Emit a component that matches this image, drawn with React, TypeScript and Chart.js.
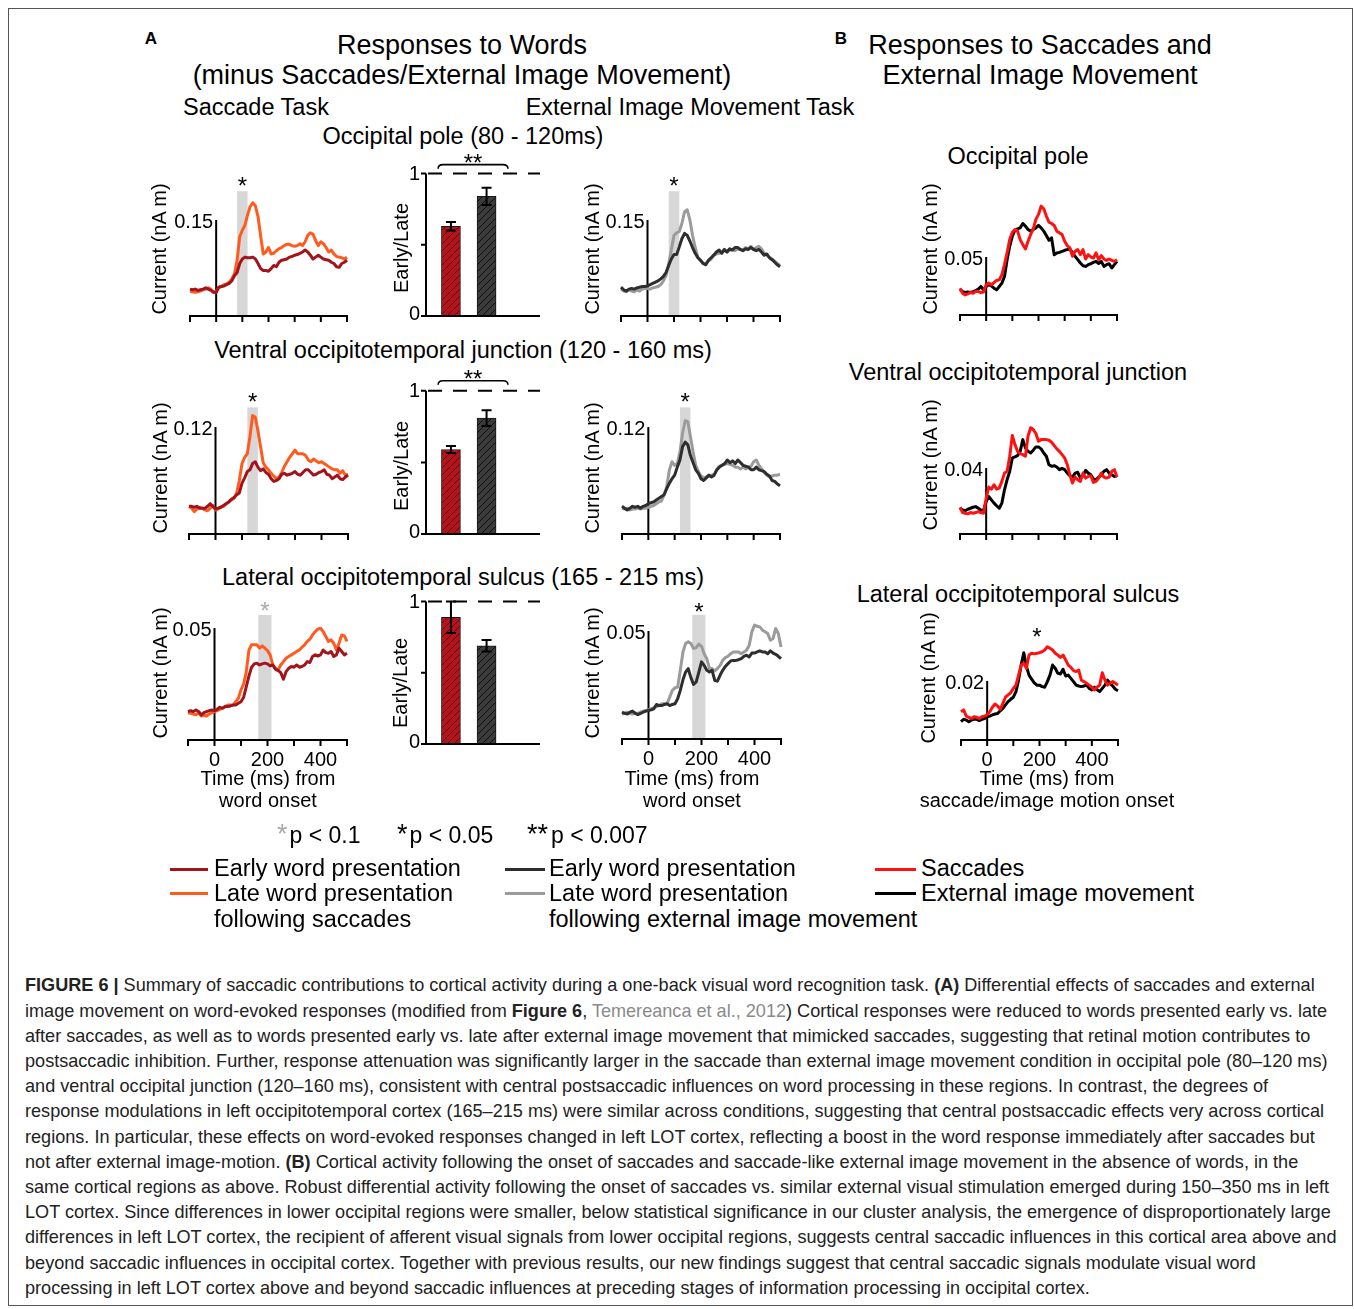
import React, { useEffect, useRef } from "react";
import { Chart, registerables } from "chart.js";

Chart.register(...registerables);

const FONT = '"Liberation Sans", Arial, Helvetica, sans-serif';

// ---------------- DATA ----------------
const TIMES = [-100, -90, -80, -70, -60, -50, -40, -30, -20, -10, 0, 10, 20, 30, 40, 50, 60, 70, 80, 90, 100, 110, 120, 130, 140, 150, 160, 170, 180, 190, 200, 210, 220, 230, 240, 250, 260, 270, 280, 290, 300, 310, 320, 330, 340, 350, 360, 370, 380, 390, 400, 410, 420, 430, 440, 450, 460, 470, 480, 490, 500];
const X_TICKS = [-100, 0, 100, 200, 300, 400, 500];
const X_TICK_LABELS = ["", "0", "", "200", "", "400", ""];

// Occipital pole — saccade task (early / late word presentation)
const S1_EARLY = [
  0.042, 0.041, 0.042, 0.040, 0.041, 0.042, 0.044, 0.042, 0.040, 0.037,
  0.037, 0.045, 0.046, 0.047, 0.049, 0.051, 0.055, 0.063, 0.068, 0.082,
  0.089, 0.092, 0.091, 0.091, 0.092, 0.089, 0.082, 0.074, 0.071, 0.071,
  0.070, 0.074, 0.079, 0.077, 0.084, 0.087, 0.088, 0.089, 0.092, 0.093,
  0.095, 0.096, 0.098, 0.100, 0.103, 0.100, 0.095, 0.089, 0.092, 0.095,
  0.092, 0.089, 0.088, 0.087, 0.084, 0.082, 0.077, 0.076, 0.082, 0.084,
  0.087];
const S1_LATE = [
  0.039, 0.038, 0.037, 0.038, 0.039, 0.041, 0.042, 0.044, 0.042, 0.037,
  0.038, 0.045, 0.046, 0.049, 0.050, 0.053, 0.058, 0.066, 0.087, 0.124,
  0.134, 0.142, 0.158, 0.171, 0.177, 0.172, 0.155, 0.125, 0.097, 0.100,
  0.107, 0.097, 0.098, 0.102, 0.105, 0.107, 0.110, 0.112, 0.112, 0.110,
  0.109, 0.110, 0.113, 0.110, 0.116, 0.126, 0.130, 0.128, 0.118, 0.110,
  0.116, 0.113, 0.107, 0.100, 0.103, 0.097, 0.093, 0.092, 0.091, 0.089,
  0.092];
// Occipital pole — external image movement task
const E1_EARLY = [
  0.045, 0.041, 0.039, 0.042, 0.043, 0.042, 0.044, 0.045, 0.046, 0.046,
  0.047, 0.049, 0.051, 0.053, 0.055, 0.058, 0.062, 0.068, 0.079, 0.089,
  0.096, 0.096, 0.108, 0.121, 0.129, 0.126, 0.117, 0.107, 0.098, 0.091,
  0.087, 0.082, 0.080, 0.087, 0.091, 0.095, 0.100, 0.103, 0.098, 0.104,
  0.100, 0.105, 0.103, 0.107, 0.107, 0.104, 0.102, 0.105, 0.104, 0.107,
  0.104, 0.102, 0.104, 0.100, 0.095, 0.097, 0.091, 0.088, 0.084, 0.080,
  0.077];
const E1_LATE = [
  0.042, 0.039, 0.038, 0.041, 0.039, 0.038, 0.041, 0.039, 0.042, 0.043,
  0.043, 0.042, 0.044, 0.045, 0.046, 0.049, 0.055, 0.063, 0.082, 0.103,
  0.126, 0.130, 0.132, 0.145, 0.163, 0.166, 0.150, 0.126, 0.107, 0.092,
  0.087, 0.082, 0.082, 0.086, 0.089, 0.095, 0.097, 0.098, 0.100, 0.102,
  0.100, 0.103, 0.104, 0.102, 0.105, 0.104, 0.103, 0.107, 0.105, 0.109,
  0.104, 0.107, 0.109, 0.105, 0.098, 0.095, 0.092, 0.089, 0.086, 0.082,
  0.079];
// Occipital pole — responses to saccades / external image movement
const B1_SACC = [
  0.0231, 0.0188, 0.0173, 0.0182, 0.0194, 0.0188, 0.0202, 0.0202, 0.0194, 0.0199,
  0.0260, 0.0275, 0.0260, 0.0280, 0.0298, 0.0303, 0.0347, 0.0434, 0.0535, 0.0650,
  0.0714, 0.0737, 0.0723, 0.0650, 0.0607, 0.0569, 0.0636, 0.0694, 0.0743, 0.0824,
  0.0867, 0.0939, 0.0916, 0.0853, 0.0801, 0.0789, 0.0772, 0.0723, 0.0708, 0.0694,
  0.0636, 0.0598, 0.0578, 0.0506, 0.0549, 0.0564, 0.0520, 0.0564, 0.0483, 0.0520,
  0.0500, 0.0491, 0.0535, 0.0477, 0.0512, 0.0483, 0.0471, 0.0483, 0.0471, 0.0462,
  0.0477];
const B1_EXT = [
  0.0217, 0.0202, 0.0194, 0.0199, 0.0194, 0.0202, 0.0211, 0.0223, 0.0246, 0.0217,
  0.0246, 0.0260, 0.0251, 0.0231, 0.0217, 0.0246, 0.0275, 0.0332, 0.0477, 0.0592,
  0.0679, 0.0731, 0.0743, 0.0751, 0.0789, 0.0766, 0.0737, 0.0723, 0.0737, 0.0751,
  0.0772, 0.0751, 0.0723, 0.0685, 0.0644, 0.0665, 0.0520, 0.0535, 0.0540, 0.0549,
  0.0558, 0.0564, 0.0569, 0.0535, 0.0506, 0.0477, 0.0448, 0.0425, 0.0419, 0.0434,
  0.0442, 0.0454, 0.0462, 0.0442, 0.0462, 0.0419, 0.0434, 0.0442, 0.0405, 0.0434,
  0.0462];

// Ventral occipitotemporal junction
const S2_EARLY = [
  0.031, 0.031, 0.030, 0.031, 0.029, 0.029, 0.029, 0.031, 0.034, 0.031,
  0.028, 0.029, 0.030, 0.032, 0.034, 0.036, 0.039, 0.041, 0.044, 0.046,
  0.057, 0.063, 0.070, 0.072, 0.079, 0.081, 0.075, 0.071, 0.073, 0.069,
  0.067, 0.062, 0.059, 0.060, 0.062, 0.067, 0.068, 0.066, 0.067, 0.068,
  0.070, 0.067, 0.066, 0.069, 0.072, 0.072, 0.069, 0.066, 0.067, 0.069,
  0.070, 0.072, 0.067, 0.066, 0.062, 0.064, 0.066, 0.062, 0.061, 0.064,
  0.066];
const S2_LATE = [
  0.031, 0.029, 0.025, 0.028, 0.030, 0.029, 0.027, 0.026, 0.029, 0.032,
  0.027, 0.028, 0.030, 0.031, 0.034, 0.036, 0.038, 0.040, 0.046, 0.060,
  0.079, 0.086, 0.090, 0.109, 0.133, 0.131, 0.116, 0.098, 0.080, 0.075,
  0.072, 0.068, 0.065, 0.062, 0.064, 0.069, 0.076, 0.081, 0.086, 0.090,
  0.094, 0.090, 0.090, 0.090, 0.088, 0.083, 0.081, 0.084, 0.082, 0.080,
  0.081, 0.079, 0.077, 0.075, 0.073, 0.072, 0.072, 0.068, 0.071, 0.066,
  0.067];
const E2_EARLY = [
  0.031, 0.029, 0.027, 0.029, 0.031, 0.030, 0.031, 0.029, 0.031, 0.032,
  0.034, 0.035, 0.036, 0.038, 0.040, 0.042, 0.044, 0.051, 0.057, 0.062,
  0.066, 0.075, 0.083, 0.098, 0.103, 0.100, 0.088, 0.080, 0.072, 0.068,
  0.062, 0.060, 0.063, 0.066, 0.064, 0.066, 0.072, 0.075, 0.077, 0.079,
  0.083, 0.080, 0.082, 0.079, 0.083, 0.080, 0.077, 0.076, 0.075, 0.072,
  0.072, 0.075, 0.072, 0.071, 0.070, 0.067, 0.065, 0.060, 0.059, 0.056,
  0.054];
const E2_LATE = [
  0.029, 0.028, 0.029, 0.027, 0.028, 0.028, 0.029, 0.028, 0.029, 0.029,
  0.030, 0.031, 0.032, 0.034, 0.036, 0.037, 0.044, 0.053, 0.072, 0.081,
  0.077, 0.079, 0.092, 0.113, 0.127, 0.126, 0.109, 0.092, 0.077, 0.070,
  0.065, 0.063, 0.064, 0.065, 0.066, 0.067, 0.072, 0.076, 0.077, 0.078,
  0.079, 0.078, 0.077, 0.075, 0.075, 0.073, 0.075, 0.073, 0.075, 0.076,
  0.081, 0.083, 0.077, 0.073, 0.069, 0.066, 0.064, 0.065, 0.066, 0.066,
  0.067];
const B2_SACC = [
  0.0162, 0.0130, 0.0126, 0.0122, 0.0130, 0.0126, 0.0130, 0.0136, 0.0130, 0.0126,
  0.0217, 0.0284, 0.0272, 0.0298, 0.0272, 0.0278, 0.0319, 0.0369, 0.0380, 0.0471,
  0.0597, 0.0542, 0.0501, 0.0487, 0.0481, 0.0471, 0.0593, 0.0644, 0.0633, 0.0609,
  0.0562, 0.0572, 0.0572, 0.0572, 0.0568, 0.0556, 0.0536, 0.0516, 0.0501, 0.0481,
  0.0461, 0.0420, 0.0359, 0.0309, 0.0345, 0.0329, 0.0319, 0.0369, 0.0339, 0.0349,
  0.0353, 0.0313, 0.0319, 0.0339, 0.0369, 0.0345, 0.0339, 0.0345, 0.0380, 0.0390,
  0.0345];
const B2_EXT = [
  0.0156, 0.0146, 0.0142, 0.0150, 0.0156, 0.0162, 0.0166, 0.0156, 0.0146, 0.0142,
  0.0197, 0.0227, 0.0207, 0.0187, 0.0171, 0.0156, 0.0187, 0.0268, 0.0329, 0.0380,
  0.0461, 0.0467, 0.0475, 0.0501, 0.0572, 0.0522, 0.0501, 0.0491, 0.0508, 0.0528,
  0.0528, 0.0516, 0.0491, 0.0471, 0.0420, 0.0410, 0.0414, 0.0406, 0.0390, 0.0398,
  0.0390, 0.0369, 0.0353, 0.0345, 0.0369, 0.0374, 0.0339, 0.0353, 0.0386, 0.0369,
  0.0359, 0.0333, 0.0329, 0.0345, 0.0359, 0.0380, 0.0390, 0.0369, 0.0359, 0.0349,
  0.0353];

// Lateral occipitotemporal sulcus
const S3_EARLY = [
  0.0127, 0.0131, 0.0127, 0.0134, 0.0127, 0.0112, 0.0122, 0.0127, 0.0131, 0.0134,
  0.0131, 0.0137, 0.0146, 0.0142, 0.0149, 0.0149, 0.0152, 0.0156, 0.0156, 0.0164,
  0.0171, 0.0191, 0.0238, 0.0286, 0.0325, 0.0340, 0.0343, 0.0335, 0.0340, 0.0343,
  0.0340, 0.0331, 0.0335, 0.0316, 0.0310, 0.0301, 0.0271, 0.0305, 0.0320, 0.0328,
  0.0325, 0.0335, 0.0325, 0.0328, 0.0335, 0.0350, 0.0346, 0.0373, 0.0380, 0.0375,
  0.0380, 0.0402, 0.0390, 0.0387, 0.0395, 0.0373, 0.0380, 0.0410, 0.0395, 0.0380,
  0.0387];
const S3_LATE = [
  0.0122, 0.0119, 0.0116, 0.0112, 0.0122, 0.0107, 0.0112, 0.0107, 0.0116, 0.0122,
  0.0127, 0.0131, 0.0137, 0.0142, 0.0149, 0.0156, 0.0156, 0.0156, 0.0171, 0.0186,
  0.0224, 0.0250, 0.0305, 0.0402, 0.0425, 0.0425, 0.0425, 0.0410, 0.0420, 0.0410,
  0.0399, 0.0380, 0.0335, 0.0320, 0.0313, 0.0335, 0.0350, 0.0365, 0.0373, 0.0380,
  0.0387, 0.0395, 0.0402, 0.0414, 0.0425, 0.0440, 0.0450, 0.0469, 0.0484, 0.0495,
  0.0499, 0.0484, 0.0462, 0.0440, 0.0447, 0.0432, 0.0402, 0.0432, 0.0469, 0.0465,
  0.0440];
const E3_EARLY = [
  0.0124, 0.0119, 0.0116, 0.0124, 0.0129, 0.0119, 0.0113, 0.0119, 0.0124, 0.0129,
  0.0132, 0.0135, 0.0140, 0.0160, 0.0155, 0.0155, 0.0160, 0.0163, 0.0155, 0.0160,
  0.0163, 0.0186, 0.0225, 0.0274, 0.0310, 0.0326, 0.0284, 0.0253, 0.0264, 0.0310,
  0.0357, 0.0341, 0.0318, 0.0310, 0.0318, 0.0271, 0.0268, 0.0295, 0.0318, 0.0336,
  0.0349, 0.0361, 0.0364, 0.0364, 0.0367, 0.0372, 0.0383, 0.0388, 0.0380, 0.0398,
  0.0398, 0.0403, 0.0408, 0.0403, 0.0403, 0.0395, 0.0408, 0.0398, 0.0392, 0.0383,
  0.0372];
const E3_LATE = [
  0.0116, 0.0119, 0.0124, 0.0119, 0.0116, 0.0119, 0.0119, 0.0124, 0.0129, 0.0132,
  0.0135, 0.0140, 0.0144, 0.0150, 0.0155, 0.0163, 0.0163, 0.0163, 0.0194, 0.0225,
  0.0237, 0.0240, 0.0318, 0.0403, 0.0442, 0.0450, 0.0442, 0.0419, 0.0423, 0.0439,
  0.0429, 0.0395, 0.0372, 0.0326, 0.0326, 0.0315, 0.0326, 0.0341, 0.0364, 0.0377,
  0.0383, 0.0395, 0.0403, 0.0403, 0.0403, 0.0395, 0.0403, 0.0411, 0.0434, 0.0496,
  0.0527, 0.0522, 0.0519, 0.0504, 0.0496, 0.0488, 0.0457, 0.0465, 0.0512, 0.0488,
  0.0426];
const B3_SACC = [
  0.0096, 0.0102, 0.0081, 0.0077, 0.0073, 0.0079, 0.0077, 0.0073, 0.0079, 0.0081,
  0.0085, 0.0096, 0.0111, 0.0122, 0.0115, 0.0104, 0.0124, 0.0145, 0.0153, 0.0160,
  0.0175, 0.0186, 0.0220, 0.0254, 0.0260, 0.0243, 0.0288, 0.0294, 0.0292, 0.0294,
  0.0296, 0.0299, 0.0305, 0.0316, 0.0311, 0.0305, 0.0294, 0.0288, 0.0280, 0.0288,
  0.0271, 0.0254, 0.0246, 0.0235, 0.0232, 0.0237, 0.0203, 0.0198, 0.0192, 0.0186,
  0.0179, 0.0170, 0.0179, 0.0186, 0.0228, 0.0203, 0.0186, 0.0192, 0.0198, 0.0192,
  0.0186];
const B3_EXT = [
  0.0062, 0.0070, 0.0068, 0.0062, 0.0068, 0.0070, 0.0070, 0.0066, 0.0070, 0.0073,
  0.0079, 0.0081, 0.0085, 0.0088, 0.0090, 0.0099, 0.0107, 0.0119, 0.0130, 0.0138,
  0.0145, 0.0164, 0.0203, 0.0254, 0.0296, 0.0249, 0.0220, 0.0206, 0.0194, 0.0186,
  0.0186, 0.0181, 0.0179, 0.0198, 0.0220, 0.0254, 0.0243, 0.0226, 0.0224, 0.0240,
  0.0217, 0.0220, 0.0209, 0.0198, 0.0186, 0.0183, 0.0181, 0.0183, 0.0186, 0.0175,
  0.0170, 0.0179, 0.0170, 0.0164, 0.0175, 0.0186, 0.0203, 0.0192, 0.0183, 0.0172,
  0.0167];

// Early/Late ratio bars: [saccade task, external image movement task]
const BAR_POS = [1, 2];
const OP_RATIO = [0.63, 0.84];
const OP_ERR = [0.03, 0.06];
const VOJ_RATIO = [0.59, 0.81];
const VOJ_ERR = [0.025, 0.055];
const LOT_RATIO = [0.89, 0.69];
const LOT_ERR = [0.11, 0.04];
const BAR_Y_TICKS = [0, 0.5, 1];
const BAR_Y_LABELS = ["0", "", "1"];

// ---------------- STYLE ----------------
const DARK_RED = "#a3131c";
const ORANGE = "#ff5b1f";
const DARK = "#2e2e2e";
const GRAY = "#9b9b9b";
const RED = "#ff1111";
const BLACK = "#000000";

type Series = { data: number[]; color: string };
type LineSpec = {
  key: string; xL: number; xR: number; yB: number; yT: number; tick: number;
  series: Series[]; band?: [number, number]; bandTop?: number;
  star?: { t: number; v: number; color: string }; xLabels: boolean;
};

const LINE_SPECS: LineSpec[] = [
  { key: "s1", xL: 190, xR: 347, yB: 316, yT: 220, tick: 0.15, series: [{ data: S1_EARLY, color: DARK_RED }, { data: S1_LATE, color: ORANGE }], band: [80, 120], bandTop: 0.195, star: { t: 100, v: 0.211, color: "#000" }, xLabels: false },
  { key: "e1", xL: 621, xR: 780, yB: 316, yT: 220, tick: 0.15, series: [{ data: E1_EARLY, color: DARK }, { data: E1_LATE, color: GRAY }], band: [80, 120], bandTop: 0.195, star: { t: 100, v: 0.211, color: "#000" }, xLabels: false },
  { key: "b1", xL: 960, xR: 1117, yB: 315, yT: 257, tick: 0.05, series: [{ data: B1_SACC, color: RED }, { data: B1_EXT, color: BLACK }], xLabels: false },
  { key: "s2", xL: 189, xR: 348, yB: 534, yT: 427, tick: 0.12, series: [{ data: S2_EARLY, color: DARK_RED }, { data: S2_LATE, color: ORANGE }], band: [120, 160], bandTop: 0.142, star: { t: 140, v: 0.154, color: "#000" }, xLabels: false },
  { key: "e2", xL: 622, xR: 780, yB: 534, yT: 427, tick: 0.12, series: [{ data: E2_EARLY, color: DARK }, { data: E2_LATE, color: GRAY }], band: [120, 160], bandTop: 0.142, star: { t: 140, v: 0.154, color: "#000" }, xLabels: false },
  { key: "b2", xL: 960, xR: 1117, yB: 534, yT: 468, tick: 0.04, series: [{ data: B2_SACC, color: RED }, { data: B2_EXT, color: BLACK }], xLabels: false },
  { key: "s3", xL: 188, xR: 347, yB: 740, yT: 628, tick: 0.05, series: [{ data: S3_EARLY, color: DARK_RED }, { data: S3_LATE, color: ORANGE }], band: [165, 215], bandTop: 0.0558, star: { t: 190, v: 0.0598, color: "#aaaaaa" }, xLabels: true },
  { key: "e3", xL: 622, xR: 781, yB: 739, yT: 631, tick: 0.05, series: [{ data: E3_EARLY, color: DARK }, { data: E3_LATE, color: GRAY }], band: [165, 215], bandTop: 0.0575, star: { t: 190, v: 0.0612, color: "#000" }, xLabels: true },
  { key: "b3", xL: 961, xR: 1118, yB: 740, yT: 681, tick: 0.02, series: [{ data: B3_SACC, color: RED }, { data: B3_EXT, color: BLACK }], star: { t: 190, v: 0.0366, color: "#000" }, xLabels: true },
];

type BarSpec = {
  key: string; axisX: number; xR: number; yB: number; yT: number;
  values: number[]; errs: number[]; bracket?: { from: number; to: number; v: number; sv: number };
};
const BAR_X_MIN = 0.3;
const BAR_X_MAX = 3.5;
const BAR_SPECS: BarSpec[] = [
  { key: "r1", axisX: 426, xR: 540, yB: 316, yT: 174, values: OP_RATIO, errs: OP_ERR, bracket: { from: 0.64, to: 2.6, v: 1.063, sv: 1.113 } },
  { key: "r2", axisX: 426, xR: 540, yB: 534, yT: 391, values: VOJ_RATIO, errs: VOJ_ERR, bracket: { from: 0.64, to: 2.6, v: 1.07, sv: 1.12 } },
  { key: "r3", axisX: 426, xR: 540, yB: 744, yT: 602, values: LOT_RATIO, errs: LOT_ERR },
];

// ---------------- CHARTS ----------------
function LineChart({ spec }: { spec: LineSpec }) {
  const ref = useRef<HTMLCanvasElement>(null);
  const PL = 40, PR = 15, PT = 40, PB = 40;
  const yMax = spec.tick * 2;
  const plotW = Math.round(spec.xR - spec.xL);
  const plotH = Math.round((spec.yB - spec.yT) * 2);
  const W = plotW + PL + PR;
  const H = plotH + PT + PB;
  const left = Math.round(spec.xL) - PL;
  const top = Math.round(spec.yB) - plotH - PT;

  useEffect(() => {
    const canvas = ref.current!;
    const plugin = {
      id: "figAxes" + spec.key,
      beforeDatasetsDraw(chart: any) {
        const { ctx, scales } = chart;
        const x = scales.x, y = scales.y;
        const yb = y.getPixelForValue(0);
        ctx.save();
        if (spec.band && spec.bandTop !== undefined) {
          const bx0 = x.getPixelForValue(spec.band[0]);
          const bx1 = x.getPixelForValue(spec.band[1]);
          const by = y.getPixelForValue(spec.bandTop);
          ctx.fillStyle = "#d7d7d7";
          ctx.fillRect(bx0, by, bx1 - bx0, yb - by);
        }
        ctx.strokeStyle = "#000";
        ctx.lineWidth = 2;
        ctx.beginPath();
        ctx.moveTo(x.getPixelForValue(-100) - 1, yb);
        ctx.lineTo(x.getPixelForValue(500) + 1, yb);
        X_TICKS.forEach((t) => {
          const px = x.getPixelForValue(t);
          ctx.moveTo(px, yb);
          ctx.lineTo(px, yb + 6);
        });
        const px0 = x.getPixelForValue(0);
        const yt = y.getPixelForValue(spec.tick);
        ctx.moveTo(px0, yb);
        ctx.lineTo(px0, yt);
        ctx.stroke();
        ctx.fillStyle = "#000";
        ctx.font = `20px ${FONT}`;
        ctx.textAlign = "right";
        ctx.textBaseline = "middle";
        ctx.fillText(spec.tick.toFixed(2), px0 - 3, yt + 2);
        if (spec.xLabels) {
          ctx.textAlign = "center";
          X_TICKS.forEach((t, i) => {
            if (X_TICK_LABELS[i]) ctx.fillText(X_TICK_LABELS[i], x.getPixelForValue(t), yb + 20);
          });
        }
        ctx.restore();
      },
      afterDatasetsDraw(chart: any) {
        if (!spec.star) return;
        const { ctx, scales } = chart;
        ctx.save();
        ctx.fillStyle = spec.star.color;
        ctx.font = `24px ${FONT}`;
        ctx.textAlign = "center";
        ctx.textBaseline = "alphabetic";
        ctx.fillText("*", scales.x.getPixelForValue(spec.star.t), scales.y.getPixelForValue(spec.star.v) + 13);
        ctx.restore();
      },
    };
    const chart = new Chart(canvas, {
      type: "line",
      data: {
        datasets: spec.series.map((s) => ({
          data: TIMES.map((t, i) => ({ x: t, y: s.data[i] })),
          borderColor: s.color,
          backgroundColor: s.color,
          borderWidth: 3,
          pointRadius: 0,
          tension: 0,
          fill: false,
          clip: false as any,
          borderJoinStyle: "round" as const,
        })),
      },
      options: {
        responsive: false,
        animation: false,
        devicePixelRatio: 1,
        events: [],
        layout: { padding: { left: PL, right: PR, top: PT, bottom: PB } },
        plugins: { legend: { display: false }, tooltip: { enabled: false }, title: { display: false } },
        scales: {
          x: { type: "linear", min: -100, max: 500, display: false },
          y: { type: "linear", min: 0, max: yMax, display: false },
        },
      },
      plugins: [plugin],
    });
    return () => chart.destroy();
  }, []);

  return <canvas ref={ref} width={W} height={H} style={{ position: "absolute", left, top, width: W, height: H }} />;
}

function makeHatch(ctx: CanvasRenderingContext2D, bg: string, line: string) {
  const c = document.createElement("canvas");
  c.width = 7;
  c.height = 7;
  const g = c.getContext("2d")!;
  g.fillStyle = bg;
  g.fillRect(0, 0, 7, 7);
  g.strokeStyle = line;
  g.lineWidth = 1;
  g.beginPath();
  g.moveTo(0, 7);
  g.lineTo(7, 0);
  g.moveTo(-1, 1);
  g.lineTo(1, -1);
  g.moveTo(6, 8);
  g.lineTo(8, 6);
  g.stroke();
  return ctx.createPattern(c, "repeat")!;
}

function BarChart({ spec }: { spec: BarSpec }) {
  const ref = useRef<HTMLCanvasElement>(null);
  const PL = 40, PR = 10, PT = 20, PB = 12;
  const yMax = 1.25;
  const plotW = Math.round(spec.xR - spec.axisX);
  const plotH = Math.round((spec.yB - spec.yT) * yMax);
  const W = plotW + PL + PR;
  const H = plotH + PT + PB;
  const left = Math.round(spec.axisX) - PL;
  const top = Math.round(spec.yB) - plotH - PT;

  useEffect(() => {
    const canvas = ref.current!;
    const ctx0 = canvas.getContext("2d")!;
    const redHatch = makeHatch(ctx0, "#b3141c", "#5e090e");
    const darkHatch = makeHatch(ctx0, "#3b3b3b", "#0e0e0e");
    const plugin = {
      id: "barAxes" + spec.key,
      afterDatasetsDraw(chart: any) {
        const { ctx, scales } = chart;
        const x = scales.x, y = scales.y;
        const ax = x.getPixelForValue(BAR_X_MIN);
        const xr = x.getPixelForValue(BAR_X_MAX);
        const y0 = y.getPixelForValue(0);
        const y1 = y.getPixelForValue(1);
        ctx.save();
        ctx.strokeStyle = "#000";
        ctx.lineWidth = 2;
        ctx.setLineDash([14, 11]);
        ctx.beginPath();
        ctx.moveTo(ax + 2, y1);
        ctx.lineTo(xr, y1);
        ctx.stroke();
        ctx.setLineDash([]);
        ctx.beginPath();
        ctx.moveTo(ax, y0);
        ctx.lineTo(ax, y1);
        ctx.moveTo(ax - 1, y0);
        ctx.lineTo(xr, y0);
        BAR_Y_TICKS.forEach((v) => {
          const py = y.getPixelForValue(v);
          ctx.moveTo(ax - 5, py);
          ctx.lineTo(ax, py);
        });
        ctx.stroke();
        ctx.fillStyle = "#000";
        ctx.font = `20px ${FONT}`;
        ctx.textAlign = "right";
        ctx.textBaseline = "middle";
        BAR_Y_TICKS.forEach((v, i) => {
          if (!BAR_Y_LABELS[i]) return;
          const py = y.getPixelForValue(v);
          ctx.fillText(BAR_Y_LABELS[i], ax - 6, v === 0 ? py - 2 : py + 1);
        });
        // error bars
        ctx.lineWidth = 2;
        spec.values.forEach((v, i) => {
          const px = x.getPixelForValue(BAR_POS[i]);
          const yt = y.getPixelForValue(v + spec.errs[i]);
          const yb = y.getPixelForValue(v - spec.errs[i]);
          ctx.beginPath();
          ctx.moveTo(px, yt);
          ctx.lineTo(px, yb);
          ctx.moveTo(px - 5, yt);
          ctx.lineTo(px + 5, yt);
          ctx.moveTo(px - 5, yb);
          ctx.lineTo(px + 5, yb);
          ctx.stroke();
        });
        if (spec.bracket) {
          const b = spec.bracket;
          const xa = x.getPixelForValue(b.from);
          const xb = x.getPixelForValue(b.to);
          const yl = y.getPixelForValue(b.v);
          ctx.lineWidth = 1.6;
          ctx.beginPath();
          ctx.moveTo(xa, yl + 4);
          ctx.quadraticCurveTo(xa, yl, xa + 5, yl);
          ctx.lineTo(xb - 5, yl);
          ctx.quadraticCurveTo(xb, yl, xb, yl + 4);
          ctx.stroke();
          ctx.font = `24px ${FONT}`;
          ctx.textAlign = "center";
          ctx.textBaseline = "alphabetic";
          ctx.fillText("**", (xa + xb) / 2, y.getPixelForValue(b.sv) + 13);
        }
        ctx.restore();
      },
    };
    const chart = new Chart(canvas, {
      type: "bar",
      data: {
        datasets: [
          {
            data: BAR_POS.map((p, i) => ({ x: p, y: spec.values[i] })),
            backgroundColor: [redHatch, darkHatch],
            borderColor: "#161616",
            borderWidth: 1,
            barThickness: 19,
          } as any,
        ],
      },
      options: {
        responsive: false,
        animation: false,
        devicePixelRatio: 1,
        events: [],
        layout: { padding: { left: PL, right: PR, top: PT, bottom: PB } },
        plugins: { legend: { display: false }, tooltip: { enabled: false } },
        scales: {
          x: { type: "linear", min: BAR_X_MIN, max: BAR_X_MAX, offset: false, display: false },
          y: { type: "linear", min: 0, max: yMax, display: false },
        },
      },
      plugins: [plugin],
    });
    return () => chart.destroy();
  }, []);

  return <canvas ref={ref} width={W} height={H} style={{ position: "absolute", left, top, width: W, height: H }} />;
}

// ---------------- TEXT ----------------
function T({ x, y, size, children, bold, color, rot, align }: any) {
  const tr = align === "left" ? "translate(0,-50%)" : rot ? "translate(-50%,-50%) rotate(-90deg)" : "translate(-50%,-50%)";
  return (
    <div
      style={{
        position: "absolute",
        left: x,
        top: y,
        transform: tr,
        whiteSpace: "nowrap",
        fontSize: size,
        lineHeight: 1,
        fontWeight: bold ? 700 : 400,
        color: color || "#000",
      }}
    >
      {children}
    </div>
  );
}

const CAPTION_LINES: [string, string][][] = [
  [["FIGURE 6 |", "b"], [" Summary of saccadic contributions to cortical activity during a one-back visual word recognition task. ", ""], ["(A)", "b"], [" Differential effects of saccades and external", ""]],
  [["image movement on word-evoked responses (modified from ", ""], ["Figure 6", "b"], [", ", ""], ["Temereanca et al., 2012", "g"], [") Cortical responses were reduced to words presented early vs. late", ""]],
  [["after saccades, as well as to words presented early vs. late after external image movement that mimicked saccades, suggesting that retinal motion contributes to", ""]],
  [["postsaccadic inhibition. Further, response attenuation was significantly larger in the saccade than external image movement condition in occipital pole (80–120 ms)", ""]],
  [["and ventral occipital junction (120–160 ms), consistent with central postsaccadic influences on word processing in these regions. In contrast, the degrees of", ""]],
  [["response modulations in left occipitotemporal cortex (165–215 ms) were similar across conditions, suggesting that central postsaccadic effects very across cortical", ""]],
  [["regions. In particular, these effects on word-evoked responses changed in left LOT cortex, reflecting a boost in the word response immediately after saccades but", ""]],
  [["not after external image-motion. ", ""], ["(B)", "b"], [" Cortical activity following the onset of saccades and saccade-like external image movement in the absence of words, in the", ""]],
  [["same cortical regions as above. Robust differential activity following the onset of saccades vs. similar external visual stimulation emerged during 150–350 ms in left", ""]],
  [["LOT cortex. Since differences in lower occipital regions were smaller, below statistical significance in our cluster analysis, the emergence of disproportionately large", ""]],
  [["differences in left LOT cortex, the recipient of afferent visual signals from lower occipital regions, suggests central saccadic influences in this cortical area above and", ""]],
  [["beyond saccadic influences in occipital cortex. Together with previous results, our new findings suggest that central saccadic signals modulate visual word", ""]],
  [["processing in left LOT cortex above and beyond saccadic influences at preceding stages of information processing in occipital cortex.", ""]],
];
const CAPTION_Y = [985, 1011, 1036, 1061, 1086, 1111, 1137, 1162, 1187, 1212, 1237, 1263, 1288];

function LegendLine({ x1, x2, y, color }: any) {
  return <div style={{ position: "absolute", left: x1, top: y - 1.5, width: x2 - x1, height: 3, background: color }} />;
}

export default function App() {
  const TITLE = 27;
  const SUB = 23.5;
  const AX = 20;
  return (
    <div
      style={{
        position: "absolute",
        left: 0,
        top: 0,
        width: 1354,
        height: 1309,
        overflow: "hidden",
        background: "#fff",
        fontFamily: FONT,
        color: "#000",
      }}
    >
      <div style={{ position: "absolute", left: 8, top: 8, width: 1343, height: 1296, border: "1px solid #555" }} />

      <T x={151} y={38} size={17} bold>A</T>
      <T x={841} y={38} size={17} bold>B</T>
      <T x={462} y={45} size={TITLE}>Responses to Words</T>
      <T x={462} y={75} size={TITLE}>(minus Saccades/External Image Movement)</T>
      <T x={1040} y={45} size={TITLE}>Responses to Saccades and</T>
      <T x={1040} y={75} size={TITLE}>External Image Movement</T>

      <T x={256} y={108} size={SUB}>Saccade Task</T>
      <T x={690} y={108} size={SUB}>External Image Movement Task</T>
      <T x={463} y={137} size={SUB}>Occipital pole (80 - 120ms)</T>
      <T x={463} y={351} size={SUB}>Ventral occipitotemporal junction (120 - 160 ms)</T>
      <T x={463} y={578} size={SUB}>Lateral occipitotemporal sulcus (165 - 215 ms)</T>
      <T x={1018} y={157} size={SUB}>Occipital pole</T>
      <T x={1018} y={373} size={SUB}>Ventral occipitotemporal junction</T>
      <T x={1018} y={595} size={SUB}>Lateral occipitotemporal sulcus</T>

      {LINE_SPECS.map((s) => (
        <LineChart key={s.key} spec={s} />
      ))}
      {BAR_SPECS.map((s) => (
        <BarChart key={s.key} spec={s} />
      ))}

      {[
        [159, 249], [592, 249], [930, 249],
        [160, 468], [592, 468], [930, 465],
        [160, 673], [592, 673], [928, 678],
      ].map(([x, y], i) => (
        <T key={"cy" + i} x={x} y={y} size={AX} rot>Current (nA m)</T>
      ))}
      {[
        [401, 248], [401, 466], [400, 683],
      ].map(([x, y], i) => (
        <T key={"el" + i} x={x} y={y} size={AX} rot>Early/Late</T>
      ))}

      <T x={268} y={778} size={AX}>Time (ms) from</T>
      <T x={268} y={800} size={AX}>word onset</T>
      <T x={692} y={778} size={AX}>Time (ms) from</T>
      <T x={692} y={800} size={AX}>word onset</T>
      <T x={1047} y={778} size={AX}>Time (ms) from</T>
      <T x={1047} y={800} size={AX}>saccade/image motion onset</T>

      <T x={277} y={834} size={23} align="left">
        <span style={{ color: "#aaa", fontSize: 27, marginRight: 2 }}>*</span>p &lt; 0.1
      </T>
      <T x={397} y={834} size={23} align="left">
        <span style={{ fontSize: 27, marginRight: 2 }}>*</span>p &lt; 0.05
      </T>
      <T x={527} y={834} size={23} align="left">
        <span style={{ fontSize: 27, marginRight: 3 }}>**</span>p &lt; 0.007
      </T>

      <LegendLine x1={170} x2={208} y={869} color={DARK_RED} />
      <LegendLine x1={170} x2={208} y={893} color={ORANGE} />
      <T x={214} y={869} size={SUB} align="left">Early word presentation</T>
      <T x={214} y={894} size={SUB} align="left">Late word presentation</T>
      <T x={214} y={920} size={SUB} align="left">following saccades</T>

      <LegendLine x1={505} x2={545} y={869} color={DARK} />
      <LegendLine x1={505} x2={545} y={893} color={GRAY} />
      <T x={549} y={869} size={SUB} align="left">Early word presentation</T>
      <T x={549} y={894} size={SUB} align="left">Late word presentation</T>
      <T x={549} y={920} size={SUB} align="left">following external image movement</T>

      <LegendLine x1={875} x2={916} y={869} color={RED} />
      <LegendLine x1={875} x2={916} y={893} color={BLACK} />
      <T x={921} y={869} size={SUB} align="left">Saccades</T>
      <T x={921} y={894} size={SUB} align="left">External image movement</T>

      {CAPTION_LINES.map((segs, i) => (
        <T key={"cap" + i} x={25} y={CAPTION_Y[i]} size={18.1} align="left" color="#222">
          {segs.map(([txt, st], j) => (
            <span
              key={j}
              style={{ fontWeight: st === "b" ? 700 : 400, color: st === "g" ? "#8a8a8a" : undefined }}
            >
              {txt}
            </span>
          ))}
        </T>
      ))}
    </div>
  );
}
